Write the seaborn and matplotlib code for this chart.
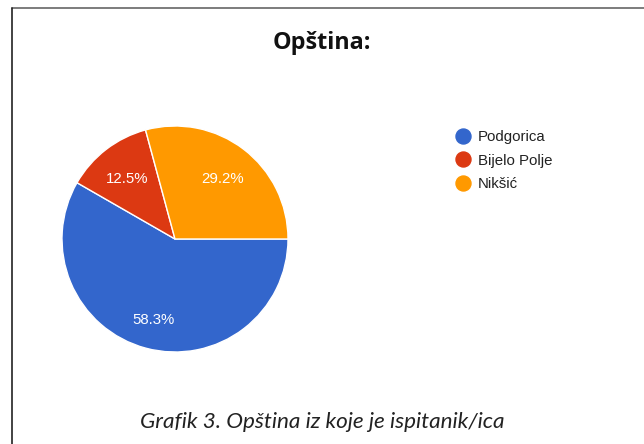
import matplotlib
matplotlib.use("Agg")
import matplotlib.pyplot as plt
from matplotlib.lines import Line2D
import numpy as np
import seaborn as sns

categories = ["Podgorica", "Bijelo Polje", "Nikšić"]
values = [58.3, 12.5, 29.2]
colors_hex = ["#3366CC", "#DC3912", "#FF9900"]
title_text = "Opština:"
caption_text = "Grafik 3. Opština iz koje je ispitanik/ica"

sns.set_theme(style="white")
plt.rcParams["font.family"] = ["Liberation Sans", "DejaVu Sans"]
palette = sns.color_palette(colors_hex)

W, H = 644, 444
fig = plt.figure(figsize=(W / 100, H / 100), dpi=100)
fig.patch.set_facecolor("white")

# pie axes: center (175,239), radius 113 px
cx, cy, r = 175, 239, 113
ax = fig.add_axes([(cx - r) / W, (H - cy - r) / H, 2 * r / W, 2 * r / H])
wedges, texts, autotexts = ax.pie(
    values, colors=palette, startangle=0, counterclock=False,
    autopct=lambda p: f"{p:.1f}%", pctdistance=0.69,
    wedgeprops=dict(edgecolor="white", linewidth=1),
    textprops=dict(color="white", fontsize=10.8),
)
# larger slice label sits a bit further out (as in Google charts)
for w, t in zip(wedges, autotexts):
    ang = np.deg2rad((w.theta1 + w.theta2) / 2)
    d = 0.73 if (w.theta2 - w.theta1) > 180 else 0.69
    t.set_position((d * np.cos(ang), d * np.sin(ang)))
    t.set_va("center_baseline")
ax.set_xlim(-1, 1)
ax.set_ylim(-1, 1)
ax.set_aspect("equal")
ax.axis("off")

# legend
handles = [Line2D([0], [0], marker="o", linestyle="none", markersize=10.8,
                  markerfacecolor=c, markeredgecolor=c) for c in palette]
fig.legend(handles, categories, loc="upper left",
           bbox_to_anchor=(455 / W, 1 - 130 / H), frameon=False,
           fontsize=10.8, handlelength=1.0, handletextpad=0.5,
           labelspacing=0.64, borderpad=0, borderaxespad=0,
           labelcolor="#222222")

# title and caption
fig.text(322 / W, 1 - 43 / H, title_text, ha="center", va="center",
         fontsize=16.8, fontweight="bold", family=["Open Sans", "DejaVu Sans"],
         color="#111111")
fig.text(322 / W, 1 - 422 / H, caption_text, ha="center", va="center",
         fontsize=16.2, style="italic", family=["Lato", "DejaVu Sans"],
         color="#222222")

# frame lines (top and left)
fig.add_artist(Line2D([12 / W, 1], [1 - 8 / H, 1 - 8 / H], color="#666666",
                      linewidth=1.2, transform=fig.transFigure))
fig.add_artist(Line2D([12 / W, 12 / W], [0, 1 - 8 / H], color="#222222",
                      linewidth=1.2, transform=fig.transFigure))

fig.savefig("out.png", dpi=100, facecolor="white")
